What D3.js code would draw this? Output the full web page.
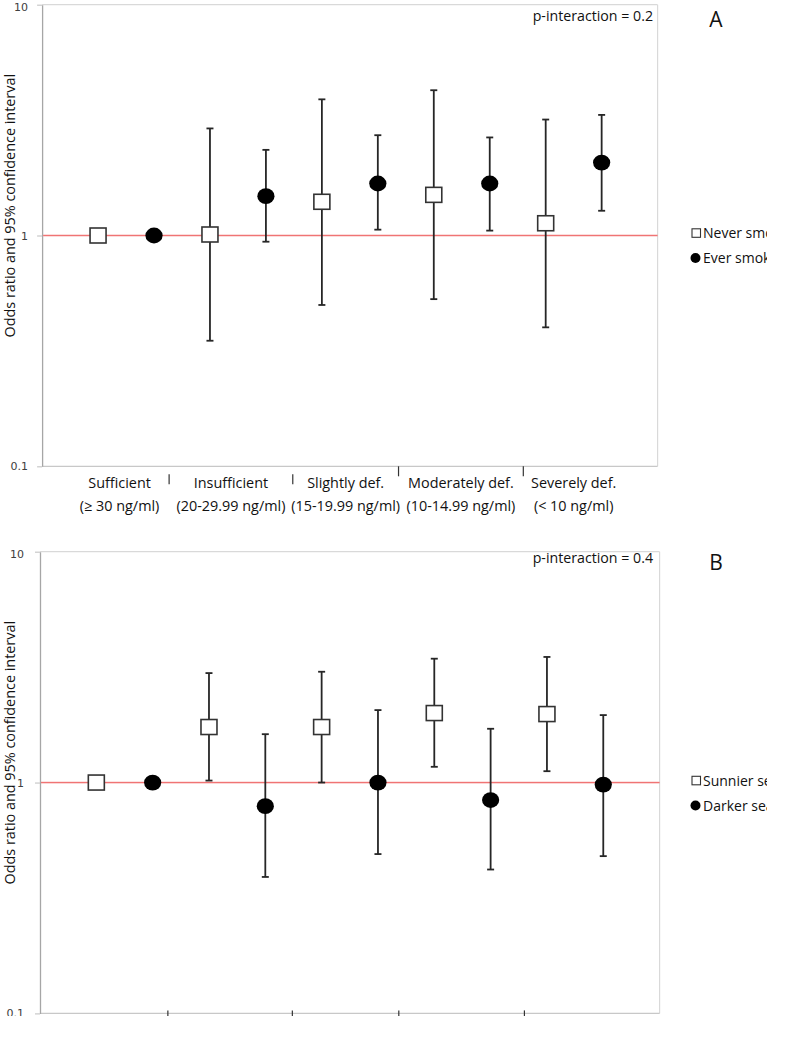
<!DOCTYPE html>
<html><head><meta charset="utf-8">
<script src="https://cdn.jsdelivr.net/npm/d3@7"></script>
<style>body{margin:0;background:#fff} svg{display:block}</style>
</head><body>
<script>
// ---------- data ----------
const categories = ["Sufficient", "Insufficient", "Slightly def.", "Moderately def.", "Severely def."];
const categoryRanges = ["(\u2265 30 ng/ml)", "(20-29.99 ng/ml)", "(15-19.99 ng/ml)", "(10-14.99 ng/ml)", "(< 10 ng/ml)"];
const categoryBounds = [0.5, 2.27, 4.48, 6.37, 8.6, 10.4];   // x-units, label spans
const categoryTicks = [2.27, 4.48, 6.37, 8.6];               // x-units
const yTickValues = [0.1, 1, 10];
const yTickLabels = ["0.1", "1", "10"];

// Panel A: smoking
const neverOR = [1, 1.01, 1.40, 1.50, 1.13];
const neverLo = [null, 0.35, 0.50, 0.53, 0.40];
const neverHi = [null, 2.91, 3.89, 4.26, 3.18];
const everOR  = [1, 1.48, 1.68, 1.68, 2.07];
const everLo  = [null, 0.94, 1.06, 1.05, 1.28];
const everHi  = [null, 2.35, 2.72, 2.66, 3.33];
const legendA = ["Never smokers", "Ever smokers"];

// Panel B: season
const sunnierOR = [1, 1.74, 1.74, 2.00, 1.98];
const sunnierLo = [null, 1.02, 1.00, 1.17, 1.12];
const sunnierHi = [null, 2.98, 3.02, 3.44, 3.50];
const darkerOR  = [1, 0.79, 1.00, 0.84, 0.98];
const darkerLo  = [null, 0.39, 0.49, 0.42, 0.48];
const darkerHi  = [null, 1.62, 2.06, 1.71, 1.96];
const legendB = ["Sunnier season", "Darker season"];

const yTitle = "Odds ratio and 95% confidence interval";

// ---------- drawing ----------
const W = 800, H = 1054;
const FONT = "'Open Sans', 'Noto Sans', sans-serif";
const svg = d3.select("body").append("svg").attr("width", W).attr("height", H);

const defs = svg.append("defs");
defs.append("clipPath").attr("id", "legclip")
  .append("rect").attr("x", 0).attr("y", 0).attr("width", 767).attr("height", H);

function drawPanel(cfg) {
  const x = d3.scaleLinear().domain([0, 11]).range([cfg.left, cfg.right]);
  const y = d3.scaleLog().domain([0.1, 10]).range([cfg.bottom, cfg.top]);
  const g = svg.append("g");

  // frame: top gridline (10) and right border
  g.append("line").attr("x1", cfg.left).attr("x2", cfg.right)
    .attr("y1", y(10)).attr("y2", y(10)).attr("stroke", "#d9d9d9").attr("stroke-width", 1.2);
  g.append("line").attr("x1", cfg.right).attr("x2", cfg.right)
    .attr("y1", y(10)).attr("y2", y(0.1)).attr("stroke", "#d9d9d9").attr("stroke-width", 1.2);
  // bottom axis line at 0.1
  g.append("line").attr("x1", cfg.left).attr("x2", cfg.right)
    .attr("y1", y(0.1)).attr("y2", y(0.1)).attr("stroke", "#c8c8c8").attr("stroke-width", 1.2);

  // y axis
  const yAxis = d3.axisLeft(y).tickValues(yTickValues)
    .tickFormat((d, i) => yTickLabels[i]).tickSize(5).tickSizeOuter(0).tickPadding(cfg.tickPad);
  const ya = g.append("g").attr("transform", `translate(${cfg.left},0)`).call(yAxis);
  ya.select(".domain").attr("stroke", "#a6a6a6").attr("stroke-width", 1.3);
  ya.selectAll(".tick line").attr("stroke", "#c8c8c8").attr("stroke-width", 1.2);
  ya.selectAll(".tick text").attr("font-family", "'DejaVu Sans', Verdana, sans-serif")
    .attr("font-size", 11).attr("fill", "#404040")
    .attr("dy", d => d === 10 ? "0.5em" : "0.32em");

  // reference line at OR = 1
  g.append("rect").attr("x", cfg.left + 1).attr("width", cfg.right - cfg.left - 1)
    .attr("y", y(1) - 0.75).attr("height", 1.5)
    .attr("fill", "#f07474");

  // category ticks
  g.selectAll(".ctick").data(categoryTicks).join("line")
    .attr("x1", d => x(d)).attr("x2", d => x(d))
    .attr("y1", (d, i) => y(0.1) + cfg.tickDrop[i])
    .attr("y2", (d, i) => y(0.1) + cfg.tickDrop[i] + 10)
    .attr("stroke", "#333").attr("stroke-width", 1.2);

  // category labels
  if (cfg.showLabels) {
    const mids = categories.map((c, i) => (categoryBounds[i] + categoryBounds[i + 1]) / 2);
    g.selectAll(".cl1").data(categories).join("text")
      .attr("x", (d, i) => x(mids[i])).attr("y", y(0.1) + 22)
      .attr("text-anchor", "middle").attr("font-family", FONT).attr("font-size", 14.4)
      .attr("fill", "#111").text(d => d);
    g.selectAll(".cl2").data(categoryRanges).join("text")
      .attr("x", (d, i) => x(mids[i])).attr("y", y(0.1) + 45)
      .attr("text-anchor", "middle").attr("font-family", FONT).attr("font-size", 14.4)
      .attr("fill", "#111").text(d => d);
  }

  // series
  const series = [
    {or: cfg.s1[0], lo: cfg.s1[1], hi: cfg.s1[2], shape: "square", off: 1},
    {or: cfg.s2[0], lo: cfg.s2[1], hi: cfg.s2[2], shape: "circle", off: 2}
  ];
  series.forEach(s => {
    const pts = s.or.map((v, i) => ({xv: 2 * i + s.off, v, lo: s.lo[i], hi: s.hi[i]}));
    const eb = pts.filter(p => p.lo != null);
    g.selectAll(null).data(eb).join("line")
      .attr("x1", p => x(p.xv)).attr("x2", p => x(p.xv))
      .attr("y1", p => y(p.lo)).attr("y2", p => y(p.hi))
      .attr("stroke", "#262626").attr("stroke-width", 1.8);
    ["lo", "hi"].forEach(k => {
      g.selectAll(null).data(eb).join("line")
        .attr("x1", p => x(p.xv) - 3.5).attr("x2", p => x(p.xv) + 3.5)
        .attr("y1", p => y(p[k])).attr("y2", p => y(p[k]))
        .attr("stroke", "#262626").attr("stroke-width", 1.8);
    });
    if (s.shape === "square") {
      g.selectAll(null).data(pts).join("rect")
        .attr("x", p => x(p.xv) - 8).attr("y", p => y(p.v) - 7.5)
        .attr("width", 16).attr("height", 15)
        .attr("fill", "#fff").attr("stroke", "#333").attr("stroke-width", 1.6);
    } else {
      g.selectAll(null).data(pts).join("ellipse")
        .attr("cx", p => x(p.xv)).attr("cy", p => y(p.v))
        .attr("rx", 8.6).attr("ry", 7.9).attr("fill", "#000");
    }
  });

  // y title
  g.append("text").attr("transform", `translate(15,${cfg.top + 201}) rotate(-90)`)
    .attr("text-anchor", "middle").attr("font-family", FONT).attr("font-size", 14.4)
    .attr("fill", "#111").text(yTitle);

  // p-interaction
  g.append("text").attr("x", 653).attr("y", cfg.top + cfg.pBase)
    .attr("text-anchor", "end").attr("font-family", FONT).attr("font-size", 14.2)
    .attr("fill", "#111").text(cfg.pText);

  // panel letter
  g.append("text").attr("x", 716).attr("y", cfg.top + cfg.letterBase)
    .attr("text-anchor", "middle").attr("font-family", FONT).attr("font-size", 21)
    .attr("fill", "#111").text(cfg.letter);

  // legend (the source image cuts the labels off at its right edge)
  const lg = g.append("g").attr("clip-path", "url(#legclip)");
  lg.append("rect").attr("x", 692).attr("y", cfg.legY - 4.2).attr("width", 8.5).attr("height", 8.5)
    .attr("fill", "#fff").attr("stroke", "#333").attr("stroke-width", 1.1);
  lg.append("circle").attr("cx", 695.5).attr("cy", cfg.legY + 25).attr("r", 5).attr("fill", "#000");
  lg.selectAll(null).data(cfg.legend).join("text")
    .attr("x", 703).attr("y", (d, i) => cfg.legY + 5 + i * 25)
    .attr("font-family", FONT).attr("font-size", 14).attr("fill", "#111").text(d => d);
}

drawPanel({
  top: 4.7, bottom: 466.3, left: 42.1, right: 657.6, tickPad: 9,
  tickDrop: [8, 8, 0, 0], showLabels: true,
  s1: [neverOR, neverLo, neverHi], s2: [everOR, everLo, everHi],
  pText: "p-interaction = 0.2", pBase: 16, letter: "A", letterBase: 22,
  legend: legendA, legY: 233
});
drawPanel({
  top: 551.7, bottom: 1013.4, left: 40, right: 659.6, tickPad: 11,
  tickDrop: [-3, -3, -3, -3], showLabels: false,
  s1: [sunnierOR, sunnierLo, sunnierHi], s2: [darkerOR, darkerLo, darkerHi],
  pText: "p-interaction = 0.4", pBase: 11, letter: "B", letterBase: 18,
  legend: legendB, legY: 780.5
});

// the source figure is cropped just below panel B's axis
svg.append("rect").attr("x", 0).attr("y", 1016).attr("width", W).attr("height", H - 1016).attr("fill", "#fff");
</script>
</body></html>
